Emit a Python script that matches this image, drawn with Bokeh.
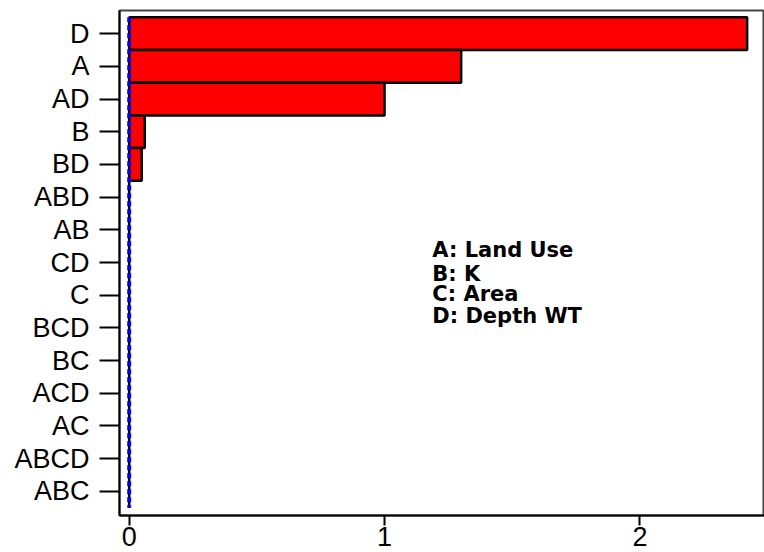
from bokeh.plotting import figure
from bokeh.models import Range1d, FixedTicker, ColumnDataSource, Label
from bokeh.embed import file_html
from bokeh.resources import INLINE

# Data
terms = ["D", "A", "AD", "B", "BD", "ABD", "AB", "CD", "C", "BCD", "BC", "ACD", "AC", "ABCD", "ABC"]
effects = [2.42, 1.30, 1.00, 0.061, 0.049, 0.0, 0.0, 0.0, 0.0, 0.0, 0.0, 0.0, 0.0, 0.0, 0.0]
x_ticks = [0, 1, 2]
legend_lines = ["A: Land Use", "B: K", "C: Area", "D: Depth WT"]
legend_y = [6.63, 7.34, 7.95, 8.65]
ref_x = 0.0

pos = list(range(len(terms)))
src = ColumnDataSource(dict(y=pos, right=effects, term=terms))

p = figure(width=764, height=552, output_backend="svg", toolbar_location=None,
           x_range=Range1d(-0.038, 2.488), y_range=Range1d(len(terms) - 0.26, -0.71),
           min_border_left=119, min_border_right=0, min_border_top=10, min_border_bottom=37)

p.hbar(y="y", left=0, right="right", height=1.0, source=src,
       fill_color="#ff0000", line_color="black", line_width=2.5)

# reference line at zero
p.line(x=[ref_x, ref_x], y=[-0.5, len(terms) - 0.5], line_color="black", line_width=1.5)
p.line(x=[ref_x, ref_x], y=[-0.5, len(terms) - 0.5], line_color="#0000ff", line_width=4,
       line_dash="5 3")

for txt, yy in zip(legend_lines, legend_y):
    p.add_layout(Label(x=1.187, y=yy, text=txt, text_font="DejaVu Sans",
                       text_font_style="bold", text_font_size="21px", text_color="black",
                       text_baseline="alphabetic"))

p.xgrid.visible = False
p.ygrid.visible = False
p.outline_line_color = "#444444"
p.outline_line_width = 2

ya = p.yaxis[0]
ya.ticker = FixedTicker(ticks=pos)
ya.major_label_overrides = {i: t for i, t in zip(pos, terms)}
ya.major_tick_out = 20
ya.major_tick_in = 0
ya.minor_tick_out = 0
ya.minor_tick_in = 0
ya.major_label_standoff = 10
ya.major_label_text_font = "Liberation Sans"
ya.major_label_text_font_size = "27px"
ya.major_label_text_color = "black"
ya.axis_line_color = "black"
ya.axis_line_width = 2
ya.major_tick_line_color = "black"
ya.major_tick_line_width = 2

xa = p.xaxis[0]
xa.ticker = FixedTicker(ticks=x_ticks)
xa.major_tick_out = 10
xa.major_tick_in = 0
xa.minor_tick_out = 0
xa.minor_tick_in = 0
xa.major_label_standoff = 1
xa.major_label_text_font = "Liberation Sans"
xa.major_label_text_font_size = "27px"
xa.major_label_text_color = "black"
xa.axis_line_color = "black"
xa.axis_line_width = 2
xa.major_tick_line_color = "black"
xa.major_tick_line_width = 2

p.background_fill_color = "white"
p.border_fill_color = "white"

open("out.html", "w").write(file_html(p, INLINE))
